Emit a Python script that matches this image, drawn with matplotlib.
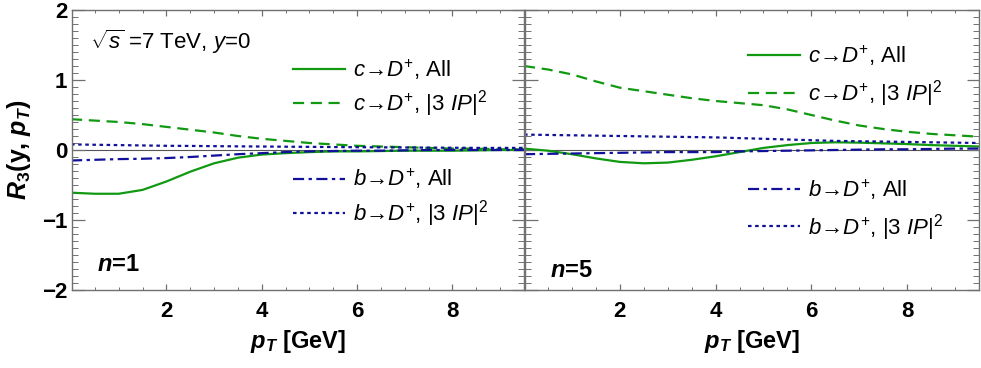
import matplotlib
matplotlib.use('Agg')
import matplotlib.pyplot as plt
from matplotlib.ticker import MultipleLocator
from matplotlib.lines import Line2D

#Fonts - Helvetica-like look
plt.rcParams['font.family'] = ['Liberation Sans', 'DejaVu Sans']
plt.rcParams['mathtext.fontset'] = 'custom'
plt.rcParams['mathtext.rm'] = 'Liberation Sans'
plt.rcParams['mathtext.it'] = 'Liberation Sans:italic'
plt.rcParams['mathtext.bf'] = 'Liberation Sans:bold'
plt.rcParams['mathtext.bfit'] = 'Liberation Sans:italic:bold'

#Data
pt = [0.0, 0.5, 1.0, 1.5, 2.0, 2.5, 3.0, 3.5, 4.0, 4.5, 5.0, 5.5, 6.0, 6.5, 7.0, 7.5, 8.0, 8.5, 9.0, 9.5]

#n=1 panel
n1_c_all = [-0.61, -0.625, -0.625, -0.57, -0.45, -0.31, -0.19, -0.11, -0.065, -0.045, -0.03, -0.02, -0.02, -0.015, -0.01, -0.01, -0.01, -0.005, 0.0, 0.0]
n1_c_ip = [0.44, 0.42, 0.40, 0.37, 0.33, 0.29, 0.25, 0.20, 0.16, 0.13, 0.10, 0.08, 0.06, 0.05, 0.04, 0.03, 0.02, 0.02, 0.01, 0.01]
n1_b_all = [-0.15, -0.14, -0.13, -0.125, -0.115, -0.10, -0.08, -0.06, -0.045, -0.03, -0.02, -0.015, -0.01, -0.01, -0.005, 0.0, 0.0, 0.0, 0.0, 0.0]
n1_b_ip = [0.08, 0.075, 0.07, 0.065, 0.06, 0.058, 0.055, 0.052, 0.05, 0.047, 0.045, 0.042, 0.04, 0.038, 0.036, 0.034, 0.032, 0.03, 0.03, 0.03]

#n=5 panel
n5_c_all = [0.02, -0.01, -0.06, -0.12, -0.17, -0.19, -0.18, -0.14, -0.09, -0.03, 0.03, 0.07, 0.10, 0.11, 0.105, 0.095, 0.085, 0.07, 0.06, 0.05]
n5_c_ip = [1.20, 1.15, 1.08, 0.98, 0.89, 0.84, 0.79, 0.74, 0.70, 0.67, 0.64, 0.58, 0.50, 0.42, 0.35, 0.30, 0.26, 0.23, 0.21, 0.19]
n5_b_all = [-0.06, -0.055, -0.05, -0.045, -0.04, -0.035, -0.03, -0.03, -0.03, -0.02, -0.015, -0.01, -0.005, 0.0, 0.005, 0.01, 0.01, 0.015, 0.02, 0.02]
n5_b_ip = [0.22, 0.215, 0.21, 0.205, 0.20, 0.195, 0.19, 0.185, 0.18, 0.17, 0.16, 0.15, 0.14, 0.13, 0.125, 0.12, 0.115, 0.11, 0.105, 0.10]

labels = ['$c$\u2192$D^{+}$, All',
          '$c$\u2192$D^{+}$, $|3\\ IP|^{2}$',
          '$b$\u2192$D^{+}$, All',
          '$b$\u2192$D^{+}$, $|3\\ IP|^{2}$']

green = '#119911'
blue = '#10109a'
styles = [dict(color=green, ls='-'),
          dict(color=green, ls=(0, (5, 3))),
          dict(color=blue, ls=(0, (5, 2, 1.5, 2))),
          dict(color=blue, ls=(0, (1.6, 1.6)))]
frame = '#707070'

fig = plt.figure(figsize=(9.81, 3.68), dpi=100)
ax1 = fig.add_axes([72/981, 78/368, 452/981, 280/368])
ax2 = fig.add_axes([525/981, 78/368, 454/981, 280/368])

#legend anchors (x, y of c-block, y of b-block, spacing) and n label y
panels = [(ax1, [n1_c_all, n1_c_ip, n1_b_all, n1_b_ip], '1', (0.489, 0.721, 0.329, 0.3), 0.09),
          (ax2, [n5_c_all, n5_c_ip, n5_b_all, n5_b_ip], '5', (0.491, 0.764, 0.286, 0.45), 0.071)]

for ax, series, tag, lg, ny in panels:
    ax.axhline(0, color='#555555', lw=0.8, zorder=1)
    for ys, st in zip(series, styles):
        ax.plot(pt, ys, lw=1.6, zorder=2, **st)
    ax.set_xlim(0.02, 9.5)
    ax.set_ylim(-2, 2)
    ax.xaxis.set_major_locator(MultipleLocator(2))
    ax.xaxis.set_minor_locator(MultipleLocator(0.5))
    ax.yaxis.set_major_locator(MultipleLocator(1))
    ax.yaxis.set_minor_locator(MultipleLocator(0.1))
    ax.tick_params(which='both', direction='in', top=True, right=True, color=frame,
                   labelsize=16)
    ax.tick_params(axis='y', which='major', length=9, width=0.9)
    ax.tick_params(axis='y', which='minor', length=4.5, width=0.7)
    ax.tick_params(axis='x', which='major', length=4, width=0.9, pad=8)
    ax.tick_params(axis='x', which='minor', length=2.5, width=0.7)
    for lab in ax.get_xticklabels() + ax.get_yticklabels():
        lab.set_fontweight('bold')
    for sp in ax.spines.values():
        sp.set_color(frame)
        sp.set_linewidth(1.0)
    ax.set_xlabel(r'$\mathbfit{p}_{\mathbfit{T}}$ [GeV]', fontsize=17, fontweight='bold', labelpad=4)
    ax.text(0.055, ny, r'$\mathbfit{n}$=' + tag, transform=ax.transAxes, fontsize=17,
            fontweight='bold', va='center')

    h = [Line2D([], [], lw=1.6, **st) for st in styles]
    kw = dict(frameon=False, fontsize=16, handlelength=2.35, labelspacing=lg[3],
              handletextpad=0.36, borderaxespad=0, borderpad=0, loc='center left')
    leg_c = ax.legend(h[:2], labels[:2], bbox_to_anchor=(lg[0], lg[1]), **kw)
    ax.add_artist(leg_c)
    ax.legend(h[2:], labels[2:], bbox_to_anchor=(lg[0], lg[2]), **kw)

ax1.set_yticks([-2, -1, 0, 1, 2])
ax1.set_yticklabels(['\u22122', '\u22121', '0', '1', '2'], fontweight='bold')
ax1.set_ylabel(r'$\mathbfit{R}_{\mathbf{3}}$(y, $\mathbfit{p}_{\mathbfit{T}}$)', fontsize=18,
               fontweight='bold', labelpad=6)
ax1.text(0.04, 0.886, r'$\sqrt{s}$ =7 TeV, $y$=0', transform=ax1.transAxes, fontsize=16,
         va='center')
ax2.tick_params(axis='y', labelleft=False)

fig.savefig('out.png', dpi=100)
